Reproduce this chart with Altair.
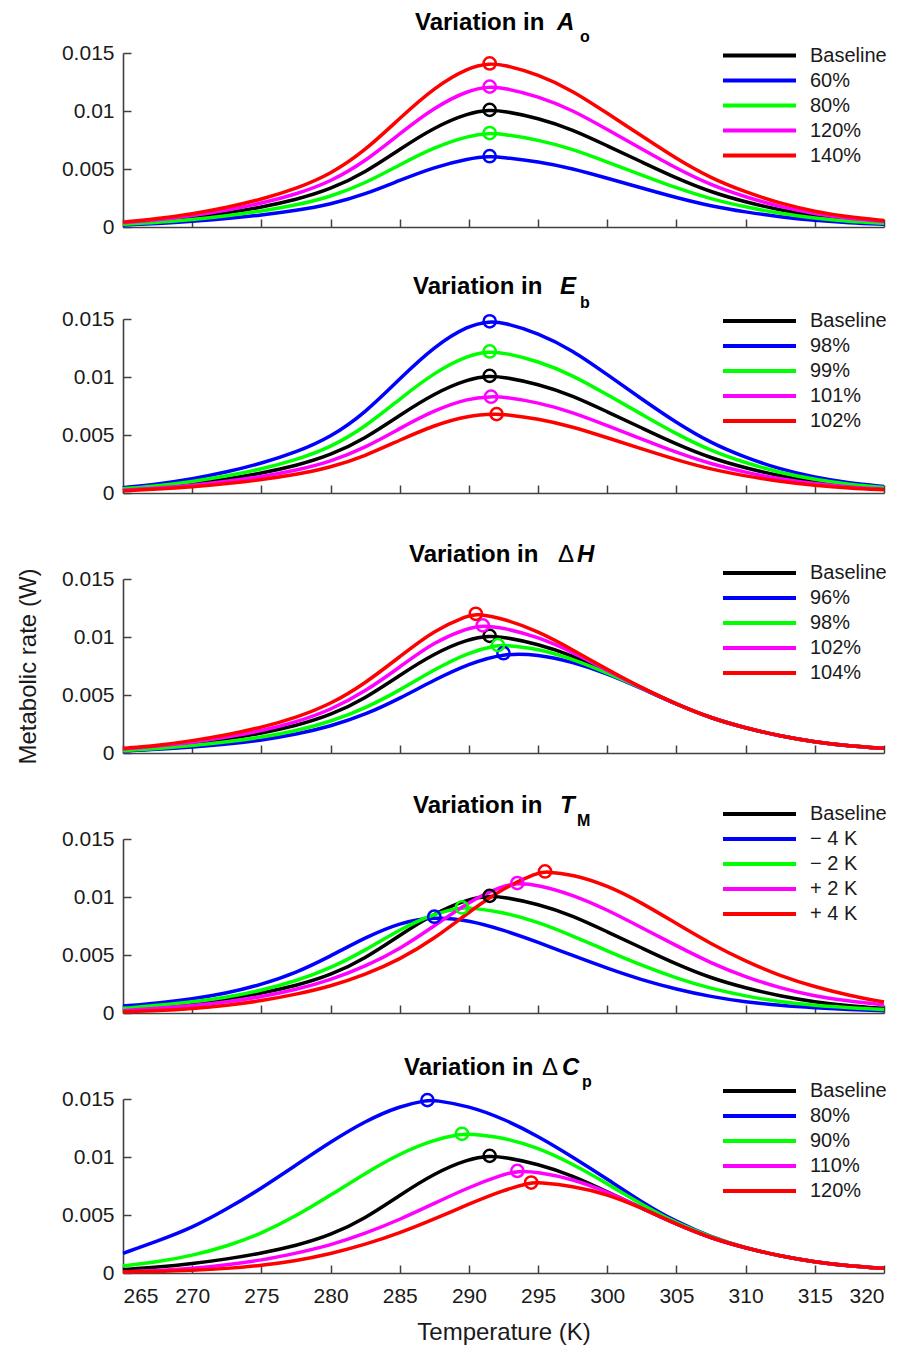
import altair as alt
import pandas as pd

FONT = "Liberation Sans"
AX = "#404040"
TXT = "#1a1a1a"
UNIT = 1e-4  # all rate arrays below are in units of 1e-4 W

T_GRID = [265, 267.5, 270, 272.5, 275, 277.5, 280, 282.5, 285, 287.5, 290, 292.5,
          295, 297.5, 300, 302.5, 305, 307.5, 310, 312.5, 315, 317.5, 320]
X_TICKS = [265, 270, 275, 280, 285, 290, 295, 300, 305, 310, 315, 320]
Y_TICKS = [0, 0.005, 0.01, 0.015]
COLORS = ["#000000", "#0000ff", "#00ff00", "#ff00ff", "#ff0000"]

BASELINE = [3, 5, 8, 12, 17, 23.5, 32.5, 47, 67, 86, 98.5, 100,
            94, 84, 70, 56, 42, 30, 21.5, 14.5, 9.5, 6, 4]

# Panel 1: variation in A_o
AO_LABELS = ["Baseline", "60%", "80%", "120%", "140%"]
AO_60 = [1.8, 3, 4.8, 7.2, 10.2, 14.1, 19.5, 28.2, 40.2, 51.6, 59.1, 60,
         56.4, 50.4, 42, 33.6, 25.2, 18, 12.9, 8.7, 5.7, 3.6, 2.4]
AO_80 = [2.4, 4, 6.4, 9.6, 13.6, 18.8, 26, 37.6, 53.6, 68.8, 78.8, 80,
         75.2, 67.2, 56, 44.8, 33.6, 24, 17.2, 11.6, 7.6, 4.8, 3.2]
AO_120 = [3.6, 6, 9.6, 14.4, 20.4, 28.2, 39, 56.4, 80.4, 103.2, 118.2, 120,
          112.8, 100.8, 84, 67.2, 50.4, 36, 25.8, 17.4, 11.4, 7.2, 4.8]
AO_140 = [4.2, 7, 11.2, 16.8, 23.8, 32.9, 45.5, 65.8, 93.8, 120.4, 137.9, 140,
          131.6, 117.6, 98, 78.4, 58.8, 42, 30.1, 20.3, 13.3, 8.4, 5.6]
AO_PEAK_T = [291.5, 291.5, 291.5, 291.5, 291.5]
AO_PEAK_V = [101, 61, 81, 121, 141]

# Panel 2: variation in E_b
EB_LABELS = ["Baseline", "98%", "99%", "101%", "102%"]
EB_98 = [4.6, 7.6, 12, 18, 25.5, 35, 48, 69, 98.5, 126.5, 144.8, 147,
         138, 123, 102, 81, 60.5, 43, 30.5, 20.5, 13.4, 8.5, 5.6]
EB_99 = [3.7, 6.1, 9.8, 14.6, 20.6, 28.5, 39.3, 56.9, 81, 104, 119.2, 121,
         113.7, 101.6, 84.7, 67.8, 50.8, 36.3, 26, 17.5, 11.5, 7.3, 4.8]
EB_101 = [2.4, 4.1, 6.6, 10, 14, 19.5, 27, 39, 55.6, 71.4, 81.8, 83,
          78, 69.7, 58.1, 46.5, 34.9, 24.9, 17.8, 12, 7.9, 5, 3.3]
EB_102 = [1.9, 3.3, 5.3, 8, 11.4, 15.8, 22, 31.9, 45.6, 58.5, 67, 67.9,
          64, 57.1, 47.6, 38.1, 28.6, 20.4, 14.6, 9.9, 6.5, 4.1, 2.7]
EB_PEAK_T = [291.5, 291.5, 291.5, 291.6, 292.0]
EB_PEAK_V = [101, 148, 122, 83, 68]

# Panel 3: variation in Delta H
DH_LABELS = ["Baseline", "96%", "98%", "102%", "104%"]
DH_96 = [1.8, 3, 5, 7.5, 11, 16, 23, 33, 47, 63, 77, 86,
         85, 78.5, 68.5, 55.5, 42, 30, 21.5, 14.5, 9.5, 6, 4]
DH_98 = [2, 3.8, 6.3, 9.5, 13.5, 19, 27, 38.5, 54, 72, 87, 93,
         90, 81, 69, 56, 42, 30, 21.5, 14.5, 9.5, 6, 4]
DH_102 = [3.5, 6, 9, 13.5, 19, 26.5, 37, 53, 74, 96, 108, 108,
          100, 87, 71, 56, 42, 30, 21.5, 14.5, 9.5, 6, 4]
DH_104 = [4, 6.5, 10.5, 15.5, 22, 30.5, 42, 60, 83, 106, 119, 116,
          105, 89, 72, 56, 42, 30, 21.5, 14.5, 9.5, 6, 4]
DH_PEAK_T = [291.5, 292.5, 292.1, 291.0, 290.5]
DH_PEAK_V = [101, 86, 93, 110, 120]

# Panel 4: variation in T_M
TM_LABELS = ["Baseline", "\u2212 4 K", "\u2212 2 K", "+ 2 K", "+ 4 K"]
TM_M4 = [6, 8.5, 12, 17, 24.5, 34.5, 49, 65, 78, 83, 80, 71.5,
         61, 49.5, 38.5, 28.5, 20.5, 14, 9.5, 6.5, 4.5, 3, 2]
TM_M2 = [4, 6.5, 9.5, 13.5, 19.5, 27.5, 38.5, 54, 72, 86, 90.8, 87,
         78.5, 66.5, 53.5, 41, 30, 21, 14.5, 9.5, 6.5, 4.5, 3]
TM_P2 = [2, 4, 6.3, 9.5, 14, 20, 28.5, 40, 55, 75, 96, 110,
         110.5, 102, 89, 73.5, 58, 43, 31, 21.5, 14.5, 10, 7]
TM_P4 = [1, 2, 3.8, 6.5, 10.5, 16, 23, 33, 46, 64, 87, 108,
         121, 119.5, 110, 95, 77, 59.5, 44.5, 32, 22.5, 15, 9.5]
TM_PEAK_T = [291.5, 287.5, 289.5, 293.5, 295.5]
TM_PEAK_V = [101, 83, 91, 112, 122]

# Panel 5: variation in Delta C_p
CP_LABELS = ["Baseline", "80%", "90%", "110%", "120%"]
CP_80 = [17, 27.5, 39, 55, 73, 93, 113, 131, 144, 149, 144, 133,
         118, 100, 81, 61, 44, 31, 21.5, 14.5, 9.5, 6, 4]
CP_90 = [6, 9.5, 15, 23, 34, 49, 67, 86, 103, 115, 119.8, 117,
         108, 94, 77, 59, 43, 31, 21.5, 14.5, 9.5, 6, 4]
CP_110 = [1, 2, 4, 7, 11, 17, 24, 34, 46, 60, 74, 85,
          87, 81, 70, 56, 42, 30, 21.5, 14.5, 9.5, 6, 4]
CP_120 = [1, 1.3, 2.2, 3.8, 6.5, 10.5, 16.5, 24.5, 34.5, 46.5, 59.5, 71.5,
          78, 75, 68, 56, 42, 30, 21.5, 14.5, 9.5, 6, 4]
CP_PEAK_T = [291.5, 287.0, 289.5, 293.5, 294.5]
CP_PEAK_V = [101, 149, 120, 88, 78]

# title pieces: (text, x px, baseline y px, size, style, weight)
TITLES = [
    [("Variation in", 292, -23, 24, "normal", "bold"), ("A", 434, -23, 24, "italic", "bold"),
     ("o", 457, -11, 16, "normal", "bold")],
    [("Variation in", 290, -25, 24, "normal", "bold"), ("E", 437, -25, 24, "italic", "bold"),
     ("b", 457, -11, 16, "normal", "bold")],
    [("Variation in", 286, -17, 24, "normal", "bold"), ("\u0394", 435, -17, 24, "normal", "normal"),
     ("H", 454, -17, 24, "italic", "bold")],
    [("Variation in", 290, -26, 24, "normal", "bold"), ("T", 437, -26, 24, "italic", "bold"),
     ("M", 454, -13, 16, "normal", "bold")],
    [("Variation in", 281, -24, 24, "normal", "bold"), ("\u0394", 419, -24, 24, "normal", "normal"),
     ("C", 439, -24, 24, "italic", "bold"), ("p", 459, -12, 16, "normal", "bold")],
]
LEGEND_Y = [-10, -10.5, -18.5, -37.5, -20.5]

PANELS = [
    (AO_LABELS, [BASELINE, AO_60, AO_80, AO_120, AO_140], AO_PEAK_T, AO_PEAK_V),
    (EB_LABELS, [BASELINE, EB_98, EB_99, EB_101, EB_102], EB_PEAK_T, EB_PEAK_V),
    (DH_LABELS, [BASELINE, DH_96, DH_98, DH_102, DH_104], DH_PEAK_T, DH_PEAK_V),
    (TM_LABELS, [BASELINE, TM_M4, TM_M2, TM_P2, TM_P4], TM_PEAK_T, TM_PEAK_V),
    (CP_LABELS, [BASELINE, CP_80, CP_90, CP_110, CP_120], CP_PEAK_T, CP_PEAK_V),
]

W, H = 761, 174
TICK = 8


def make_panel(i):
    labels, series, pk_t, pk_v = PANELS[i]
    rows, peaks = [], []
    for k, (lab, vals) in enumerate(zip(labels, series)):
        pts = [(t, v) for t, v in zip(T_GRID, vals) if abs(t - pk_t[k]) > 0.05]
        pts.append((pk_t[k], pk_v[k]))
        pts.sort()
        for t, v in pts:
            rows.append({"T": t, "rate": v * UNIT, "series": lab})
        peaks.append({"T": pk_t[k], "rate": pk_v[k] * UNIT, "series": lab})
    lines_df = pd.DataFrame(rows)
    peaks_df = pd.DataFrame(peaks)

    bottom = i == len(PANELS) - 1
    xaxis = dict(values=X_TICKS, ticks=False, tickSize=0, grid=True,
                 gridDash=[TICK, H - TICK], gridDashOffset=TICK,
                 gridColor=AX, gridWidth=1.5, domainColor=AX, domainWidth=1.6,
                 labels=bottom, labelFontSize=21, labelFont=FONT, labelColor=TXT,
                 labelPadding=12)
    if bottom:
        xaxis.update(title="Temperature (K)", titleFontSize=24, titleFont=FONT,
                     titleFontWeight="normal", titleColor=TXT, titlePadding=14)
    else:
        xaxis.update(title=None)
    yaxis = dict(values=Y_TICKS, format=".3~f", ticks=False, tickSize=0, grid=True,
                 gridDash=[TICK, 2000], gridColor=AX, gridWidth=1.5, domainColor=AX,
                 domainWidth=1.6, labelFontSize=21, labelFont=FONT, labelColor=TXT,
                 labelPadding=9)
    if i == 2:
        yaxis.update(title="Metabolic rate (W)", titleFontSize=24, titleFont=FONT,
                     titleFontWeight="normal", titleColor=TXT, titlePadding=21)
    else:
        yaxis.update(title=None)

    x = alt.X("T:Q", scale=alt.Scale(domain=[265, 320], nice=False, zero=False),
              axis=alt.Axis(**xaxis))
    y = alt.Y("rate:Q", scale=alt.Scale(domain=[0, 0.015], nice=False),
              axis=alt.Axis(**yaxis))
    cscale = alt.Scale(domain=labels, range=COLORS)

    lines = alt.Chart(lines_df).mark_line(strokeWidth=3.5, interpolate="basis").encode(
        x=x, y=y,
        color=alt.Color("series:N", scale=cscale, legend=alt.Legend(
            orient="none", legendX=598, legendY=LEGEND_Y[i], title=None,
            symbolType="stroke", symbolSize=5329, symbolStrokeWidth=4,
            clipHeight=25, rowPadding=0, labelFontSize=20, labelFont=FONT,
            labelColor=TXT, labelOffset=12, padding=0)),
    )
    points = alt.Chart(peaks_df).mark_point(shape="circle", filled=False, size=150,
                                            strokeWidth=2.5, opacity=1).encode(
        x=x, y=y,
        stroke=alt.Stroke("series:N", scale=alt.Scale(domain=labels, range=COLORS), legend=None),
    )
    layers = [lines, points]
    one = pd.DataFrame({"a": [0]})
    for text, px, py, size, style, weight in TITLES[i]:
        layers.append(
            alt.Chart(one).mark_text(text=text, align="left", baseline="alphabetic",
                                     fontSize=size, fontStyle=style, fontWeight=weight,
                                     font=FONT, color="#000000").encode(
                x=alt.value(px), y=alt.value(py))
        )
    return alt.layer(*layers).properties(width=W, height=H)


panels = [make_panel(i) for i in range(5)]
inner = alt.vconcat(*panels[1:], spacing=86, bounds="flush").resolve_scale(
    color="independent", stroke="independent", x="independent", y="independent"
).resolve_legend(color="independent", stroke="independent")
chart = alt.vconcat(panels[0], inner, spacing=92, bounds="flush").resolve_scale(
    color="independent", stroke="independent", x="independent", y="independent"
).resolve_legend(color="independent", stroke="independent").properties(
    padding={"left": 8, "top": 3, "right": 5, "bottom": 5}
).configure(font=FONT).configure_view(stroke=None)

chart.save("out.html", embed_options={"renderer": "svg", "actions": False})
